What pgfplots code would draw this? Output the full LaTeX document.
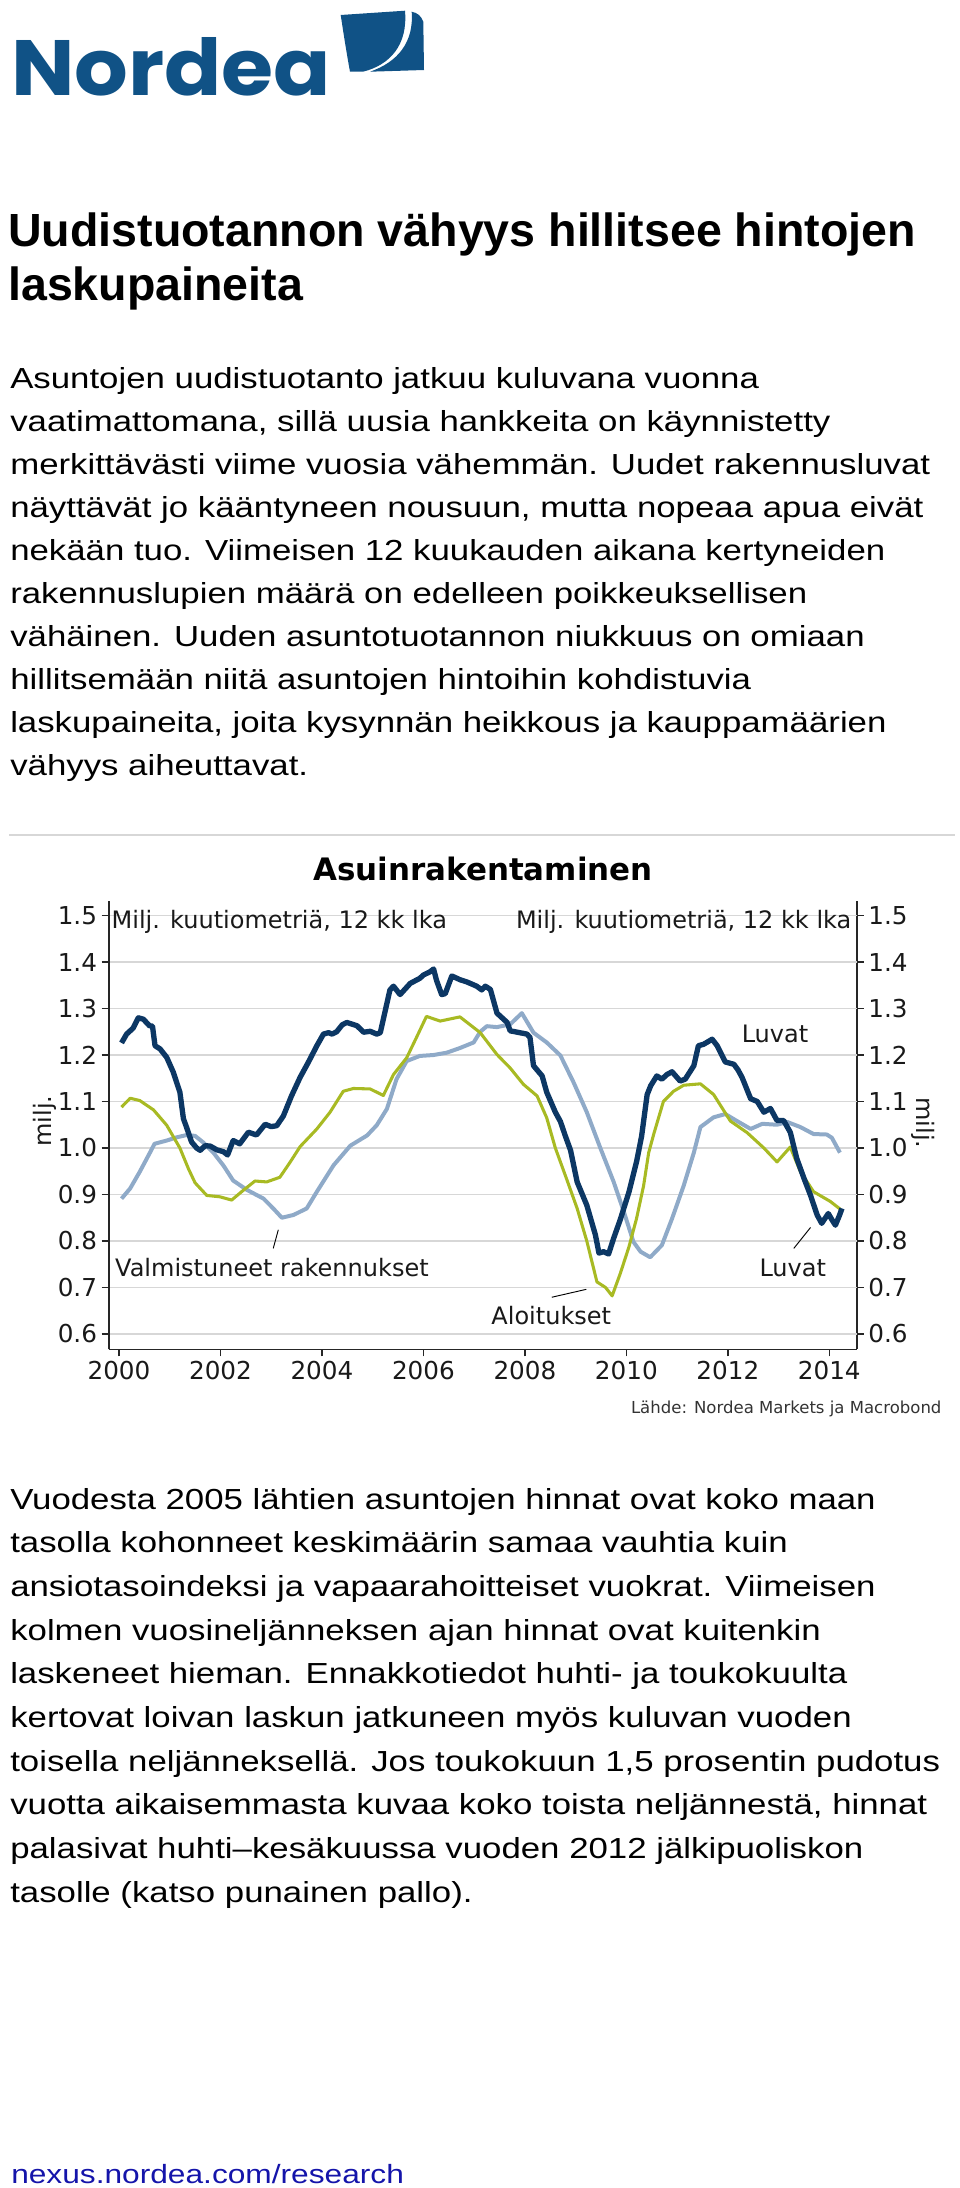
\documentclass[border=0pt]{standalone}
\usepackage{fontspec}
\usepackage{pgfplots}
\pgfplotsset{compat=1.18}
\setmainfont{Liberation Sans}
\newfontfamily\bodyfont[FakeStretch=1.2]{Liberation Sans}
\newfontfamily\chartfont{DejaVu Sans}
\newfontfamily\logofont{Poppins}
\definecolor{navy}{RGB}{12,55,100}
\definecolor{lblue}{RGB}{143,170,200}
\definecolor{lgreen}{RGB}{168,186,35}
\definecolor{nordea}{RGB}{16,82,134}
\definecolor{linkblue}{RGB}{20,20,170}
\definecolor{gridgray}{RGB}{215,215,215}
\tikzset{body/.style={anchor=base west, inner sep=0pt, font=\bodyfont\fontsize{21.75}{26}\selectfont},
  ttl/.style={anchor=base west, inner sep=0pt, font=\bfseries\fontsize{34.9}{40}\selectfont},
  ann/.style={inner sep=0pt, font=\chartfont\fontsize{18}{20}\selectfont, text=black!90}}
\pgfplotsset{chartbase/.style={
  at={(81.525pt,-1011.975pt)}, anchor=south west,
  scale only axis, width=561pt, height=336.5pt,
  xmin=1999.797, xmax=2014.54, ymin=0.567, ymax=1.532,
  axis line style={line width=1.2pt, black!85},
  tick align=outside, major tick length=5.25pt,
  every tick/.style={line width=1pt, black!85},
  ytick={0.6,0.7,0.8,0.9,1.0,1.1,1.2,1.3,1.4,1.5},
  ticklabel style={font=\chartfont\fontsize{18.5}{20}\selectfont, text=black!90},
  yticklabel style={/pgf/number format/.cd, fixed, fixed zerofill, precision=1, assume math mode=true},
}}
\begin{document}
\begin{tikzpicture}
\useasboundingbox (0,0) rectangle (720pt,-1641pt);
\begin{scope}[x=0.75pt,y=-0.75pt]
% logo
\node[anchor=base west, inner sep=0pt, text=nordea] at (11,95) {\resizebox{240pt}{43.5pt}{\logofont\bfseries Nordea}};
\fill[nordea] (340.7,15) -- (405,10.7) .. controls (408,45) and (390,65) .. (363,71.7) -- (350,71.7) .. controls (346,50) and (343,30) .. (340.7,15) -- cycle;
\fill[nordea] (411.7,11.7) .. controls (418,13) and (421,16) .. (423.3,21.7) -- (424,70) -- (370,71.7) .. controls (398,62) and (414,42) .. (411.7,11.7) -- cycle;
% title
\node[ttl] at (8,246.7) {Uudistuotannon vähyys hillitsee hintojen};
\node[ttl] at (8,300) {laskupaineita};
% paragraph 1
\node[body] at (10,388.0) {Asuntojen uudistuotanto jatkuu kuluvana vuonna};
\node[body] at (10,431.1) {vaatimattomana, sillä uusia hankkeita on käynnistetty};
\node[body] at (10,474.2) {merkittävästi viime vuosia vähemmän. Uudet rakennusluvat};
\node[body] at (10,517.3) {näyttävät jo kääntyneen nousuun, mutta nopeaa apua eivät};
\node[body] at (10,560.4) {nekään tuo. Viimeisen 12 kuukauden aikana kertyneiden};
\node[body] at (10,603.5) {rakennuslupien määrä on edelleen poikkeuksellisen};
\node[body] at (10,646.6) {vähäinen. Uuden asuntotuotannon niukkuus on omiaan};
\node[body] at (10,689.7) {hillitsemään niitä asuntojen hintoihin kohdistuvia};
\node[body] at (10,732.8) {laskupaineita, joita kysynnän heikkous ja kauppamäärien};
\node[body] at (10,775.9) {vähyys aiheuttavat.};
% separator
\draw[gridgray, line width=0.9pt] (9,835) -- (955,835);
% chart title and labels
\node[anchor=base, inner sep=0pt, font=\chartfont\bfseries\fontsize{23.2}{26}\selectfont] at (483,880) {Asuinrakentaminen};
\node[ann, rotate=90] at (45,1121) {milj.};
\node[ann, rotate=-90] at (923,1123) {milj.};
\node[anchor=base east, inner sep=0pt, text=black!80, font=\chartfont\fontsize{12.4}{14}\selectfont] at (941.7,1413) {Lähde: Nordea Markets ja Macrobond};
% paragraph 2
\node[body] at (10,1509.0) {Vuodesta 2005 lähtien asuntojen hinnat ovat koko maan};
\node[body] at (10,1552.7) {tasolla kohonneet keskimäärin samaa vauhtia kuin};
\node[body] at (10,1596.4) {ansiotasoindeksi ja vapaarahoitteiset vuokrat. Viimeisen};
\node[body] at (10,1640.1) {kolmen vuosineljänneksen ajan hinnat ovat kuitenkin};
\node[body] at (10,1683.8) {laskeneet hieman. Ennakkotiedot huhti- ja toukokuulta};
\node[body] at (10,1727.5) {kertovat loivan laskun jatkuneen myös kuluvan vuoden};
\node[body] at (10,1771.2) {toisella neljänneksellä. Jos toukokuun 1,5 prosentin pudotus};
\node[body] at (10,1814.9) {vuotta aikaisemmasta kuvaa koko toista neljännestä, hinnat};
\node[body] at (10,1858.6) {palasivat huhti–kesäkuussa vuoden 2012 jälkipuoliskon};
\node[body] at (10,1902.3) {tasolle (katso punainen pallo).};
% footer
\node[anchor=base west, inner sep=0pt, text=linkblue, font=\bodyfont\fontsize{19.8}{23}\selectfont] at (11,2183) {nexus.nordea.com/research};
\end{scope}
% right axis
\begin{axis}[chartbase, axis y line*=right, axis x line=none]
\addplot[draw=none] coordinates {(2000,1.0)};
\end{axis}
% main axis
\begin{axis}[chartbase,
  axis x line*=bottom, axis y line*=left,
  xtick={2000,2002,2004,2006,2008,2010,2012,2014},
  ymajorgrids, major grid style={line width=1pt, gridgray},
  xticklabel style={/pgf/number format/1000 sep={}, /pgf/number format/assume math mode=true},
  clip=false,
]
\addplot[lblue, line width=3pt, line join=round, no marks] coordinates {
(2000.05,0.891)(2000.22,0.913)(2000.41,0.949)(2000.61,0.990)(2000.70,1.009)(2000.94,1.016)
(2001.14,1.023)(2001.34,1.028)(2001.50,1.026)(2001.66,1.012)(2001.86,0.990)(2002.06,0.962)
(2002.25,0.930)(2002.52,0.910)(2002.85,0.891)(2003.04,0.870)(2003.21,0.850)(2003.44,0.856)
(2003.70,0.870)(2003.90,0.906)(2004.23,0.963)(2004.56,1.005)(2004.89,1.027)(2005.08,1.049)
(2005.28,1.084)(2005.47,1.148)(2005.67,1.187)(2005.93,1.198)(2006.20,1.200)(2006.46,1.205)
(2006.72,1.215)(2006.99,1.227)(2007.12,1.250)(2007.25,1.262)(2007.45,1.260)(2007.71,1.266)
(2007.94,1.290)(2008.17,1.248)(2008.43,1.227)(2008.70,1.199)(2008.96,1.141)(2009.22,1.077)
(2009.48,1.002)(2009.75,0.927)(2009.95,0.863)(2010.14,0.798)(2010.28,0.777)(2010.47,0.765)
(2010.70,0.791)(2010.90,0.848)(2011.13,0.919)(2011.33,0.990)(2011.46,1.045)(2011.72,1.066)
(2011.95,1.073)(2012.18,1.058)(2012.45,1.041)(2012.68,1.052)(2012.97,1.050)(2013.17,1.056)
(2013.43,1.045)(2013.69,1.030)(2013.95,1.029)(2014.05,1.022)(2014.21,0.990)};
\addplot[lgreen, line width=2.3pt, line join=round, no marks] coordinates {
(2000.05,1.088)(2000.22,1.107)(2000.41,1.102)(2000.68,1.082)(2000.94,1.049)(2001.20,1.000)
(2001.37,0.955)(2001.50,0.925)(2001.73,0.898)(2001.99,0.895)(2002.22,0.888)(2002.45,0.909)
(2002.68,0.929)(2002.91,0.927)(2003.17,0.937)(2003.37,0.969)(2003.57,1.003)(2003.90,1.041)
(2004.16,1.077)(2004.42,1.122)(2004.62,1.128)(2004.95,1.127)(2005.21,1.113)(2005.41,1.158)
(2005.67,1.194)(2005.86,1.237)(2006.06,1.283)(2006.33,1.273)(2006.72,1.282)(2007.12,1.248)
(2007.45,1.201)(2007.71,1.172)(2007.97,1.137)(2008.24,1.112)(2008.43,1.065)(2008.60,1.000)
(2008.82,0.934)(2009.03,0.870)(2009.22,0.800)(2009.42,0.712)(2009.59,0.700)(2009.72,0.682)
(2009.88,0.730)(2010.05,0.787)(2010.20,0.848)(2010.34,0.919)(2010.44,0.990)(2010.54,1.030)
(2010.73,1.100)(2010.93,1.122)(2011.13,1.135)(2011.46,1.138)(2011.72,1.115)(2012.05,1.058)
(2012.38,1.033)(2012.71,1.000)(2012.97,0.970)(2013.23,1.002)(2013.43,0.949)(2013.69,0.906)
(2014.02,0.885)(2014.22,0.868)};
\addplot[navy, line width=4pt, line join=round, no marks] coordinates {
(2000.05,1.226)(2000.15,1.245)(2000.28,1.258)(2000.38,1.280)(2000.48,1.277)(2000.60,1.263)
(2000.66,1.262)(2000.71,1.220)(2000.81,1.213)(2000.94,1.195)(2001.07,1.163)(2001.20,1.120)
(2001.27,1.063)(2001.33,1.045)(2001.43,1.013)(2001.53,1.000)(2001.60,0.995)(2001.70,1.005)
(2001.80,1.004)(2001.93,0.996)(2002.06,0.992)(2002.14,0.985)(2002.25,1.016)(2002.38,1.009)
(2002.55,1.034)(2002.71,1.028)(2002.88,1.051)(2003.00,1.046)(2003.11,1.048)(2003.24,1.069)
(2003.40,1.112)(2003.57,1.152)(2003.73,1.184)(2003.90,1.220)(2004.03,1.245)(2004.13,1.248)
(2004.20,1.245)(2004.29,1.250)(2004.40,1.265)(2004.49,1.270)(2004.69,1.263)(2004.82,1.249)
(2004.95,1.251)(2005.08,1.245)(2005.15,1.248)(2005.21,1.277)(2005.34,1.340)(2005.41,1.348)
(2005.54,1.330)(2005.74,1.354)(2005.93,1.365)(2006.00,1.372)(2006.13,1.379)(2006.20,1.385)
(2006.26,1.360)(2006.36,1.330)(2006.43,1.332)(2006.56,1.370)(2006.72,1.362)(2006.86,1.357)
(2007.05,1.348)(2007.15,1.340)(2007.22,1.348)(2007.32,1.341)(2007.45,1.290)(2007.65,1.270)
(2007.71,1.252)(2008.04,1.245)(2008.10,1.238)(2008.17,1.177)(2008.34,1.155)(2008.43,1.120)
(2008.60,1.077)(2008.70,1.057)(2008.80,1.025)(2008.90,0.995)(2009.03,0.927)(2009.22,0.877)
(2009.39,0.813)(2009.46,0.774)(2009.55,0.777)(2009.65,0.772)(2009.75,0.806)(2009.88,0.846)
(2010.05,0.905)(2010.20,0.970)(2010.30,1.025)(2010.41,1.115)(2010.48,1.134)(2010.60,1.155)
(2010.70,1.148)(2010.80,1.158)(2010.90,1.164)(2011.06,1.144)(2011.16,1.148)(2011.33,1.177)
(2011.42,1.220)(2011.52,1.223)(2011.60,1.228)(2011.69,1.234)(2011.79,1.220)(2011.95,1.185)
(2012.12,1.180)(2012.20,1.168)(2012.28,1.152)(2012.45,1.106)(2012.58,1.100)(2012.71,1.077)
(2012.84,1.085)(2012.97,1.059)(2013.10,1.059)(2013.23,1.034)(2013.36,0.977)(2013.50,0.935)
(2013.63,0.898)(2013.76,0.856)(2013.85,0.838)(2013.98,0.859)(2014.05,0.846)(2014.12,0.834)
(2014.20,0.855)(2014.25,0.870)};
\node[ann, anchor=base west] at (axis cs:1999.85,1.473) {Milj. kuutiometriä, 12 kk lka};
\node[ann, anchor=base east] at (axis cs:2014.44,1.473) {Milj. kuutiometriä, 12 kk lka};
\node[ann, anchor=base] at (axis cs:2012.93,1.227) {Luvat};
\node[ann, anchor=base] at (axis cs:2013.28,0.724) {Luvat};
\draw[line width=0.7pt] (axis cs:2013.30,0.784) -- (axis cs:2013.63,0.829);
\node[ann, anchor=base] at (axis cs:2008.52,0.620) {Aloitukset};
\draw[line width=0.7pt] (axis cs:2008.53,0.679) -- (axis cs:2009.21,0.696);
\node[ann, anchor=base west] at (axis cs:1999.92,0.724) {Valmistuneet rakennukset};
\draw[line width=0.7pt] (axis cs:2003.14,0.824) -- (axis cs:2003.04,0.784);
\end{axis}
\end{tikzpicture}
\end{document}
